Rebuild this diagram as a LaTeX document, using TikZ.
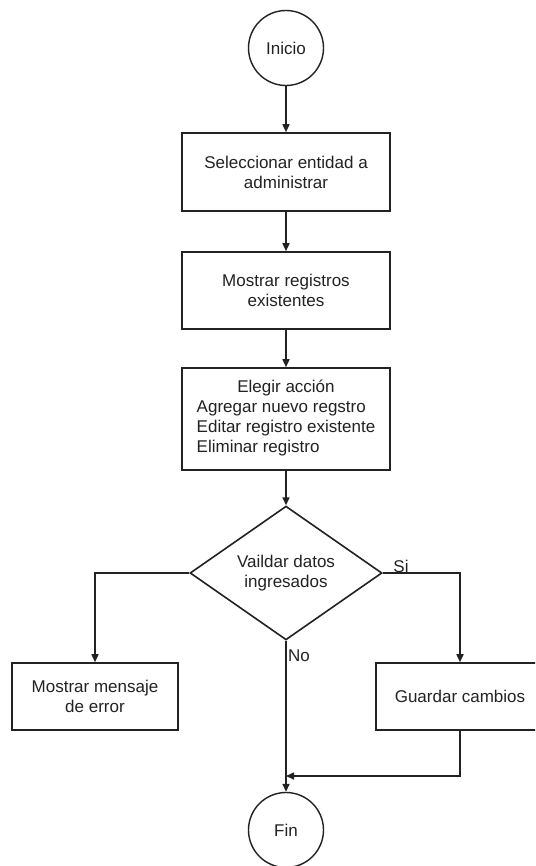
\documentclass[tikz,border=0pt]{standalone}
\usepackage{fontspec}
\setmainfont{Liberation Sans}
\usetikzlibrary{shapes.geometric,arrows.meta}
\definecolor{ink}{HTML}{222222}
\begin{document}
\begin{tikzpicture}[x=1pt,y=-1pt,
  every node/.style={font=\fontsize{17}{20}\selectfont, text=ink},
  line/.style={draw=ink, line width=1.6pt},
  arr/.style={line, -{Triangle[length=8pt,width=7pt]}},
  procbox/.style={draw=ink, line width=1.6pt, rectangle, inner sep=0pt, align=center},
  term/.style={draw=ink, line width=1.4pt, circle, inner sep=0pt, minimum size=75pt},
  decision/.style={draw=ink, line width=1.6pt, diamond, inner sep=0pt, align=center,
                   minimum width=192pt, minimum height=127pt},
  lbl/.style={inner sep=0pt},
]
% page frame
\clip (0,0) rectangle (535,866);
\fill[white] (0,0) rectangle (535,866);

% main column
\node[term] (inicio) at (286,48) {Inicio};
\node[procbox, minimum width=208pt, minimum height=78pt] (sel) at (286,172)
  {Seleccionar entidad a\\administrar};
\node[procbox, minimum width=208pt, minimum height=77pt] (mos) at (286,290.5)
  {Mostrar registros\\existentes};
\node[procbox, minimum width=208pt, minimum height=102pt] (acc) at (286,419)
  {Elegir acción\\\begin{tabular}[t]{@{}l@{}}Agregar nuevo regstro\\Editar registro existente\\Eliminar registro\end{tabular}};
\node[decision] (val) at (286,573) {Vaildar datos\\ingresados};

% branches
\node[procbox, minimum width=166pt, minimum height=67pt] (err) at (95,696.5)
  {Mostrar mensaje\\de error};
\node[procbox, minimum width=168pt, minimum height=67pt] (sav) at (460,696.5)
  {Guardar cambios};
\node[term] (fin) at (286,830) {Fin};

\coordinate (merge) at (286,776);

% connectors
\draw[arr] (inicio) -- (sel);
\draw[arr] (sel) -- (mos);
\draw[arr] (mos) -- (acc);
\draw[arr] (acc) -- (val);
\draw[arr] (val.west) -| (err.north);
\draw[arr] (val.east) -| (sav.north);
\draw[arr] (val.south) -- (fin.north);
\draw[arr] (sav.south) |- (merge);

% branch labels
\node[lbl] (si) at (401,566) {Si};
\node[lbl] (no) at (299,656) {No};
\end{tikzpicture}
\end{document}
